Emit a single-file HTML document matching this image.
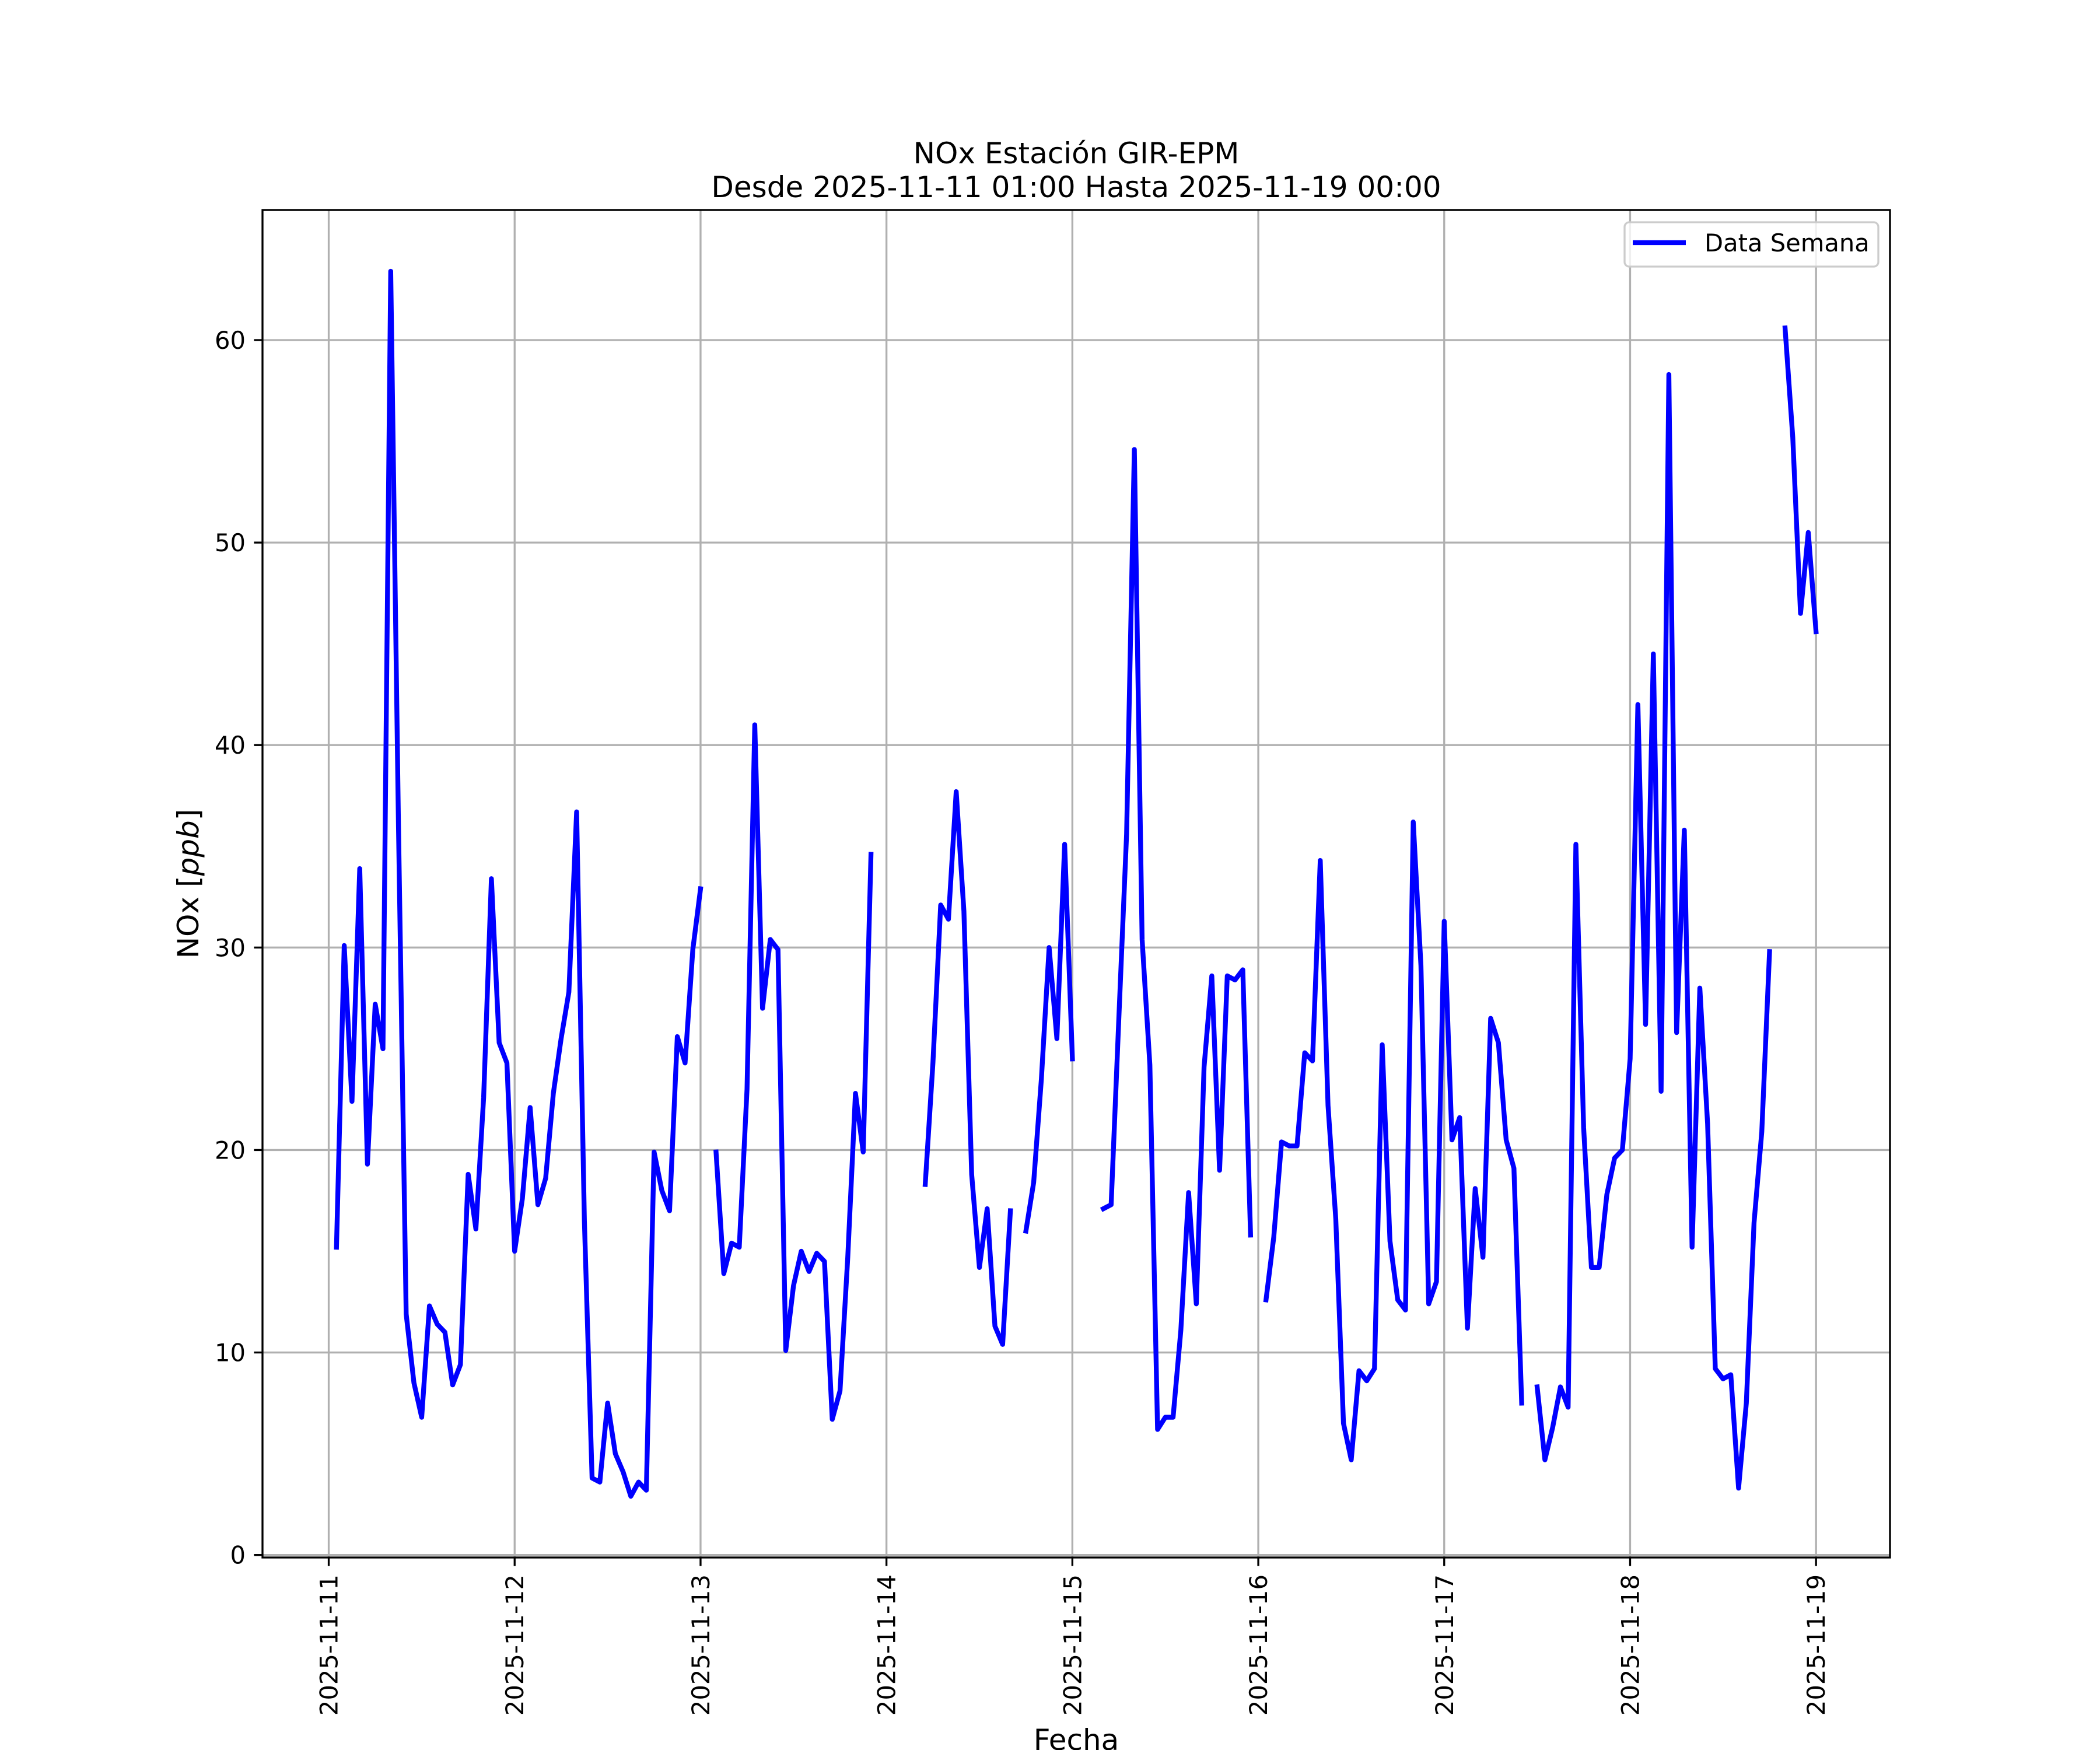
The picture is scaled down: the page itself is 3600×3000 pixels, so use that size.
<!DOCTYPE html>
<html><head><meta charset="utf-8"><style>
html,body{margin:0;padding:0;background:#fff;}
svg{display:block;font-family:"DejaVu Sans","Liberation Sans",sans-serif;}
</style></head><body>
<svg id="chart" width="3600" height="3000" viewBox="0 0 3600 3000" xmlns="http://www.w3.org/2000/svg">
<rect x="0" y="0" width="3600" height="3000" fill="#fff"/>
<text x="1845" y="280" font-size="50" text-anchor="middle">NOx Estación GIR-EPM</text>
<text x="1845" y="338" font-size="50" text-anchor="middle">Desde 2025-11-11 01:00 Hasta 2025-11-19 00:00</text>
<g id="grid"></g>
<defs><clipPath id="clip"><rect x="450" y="360" width="2790" height="2310"/></clipPath></defs>
<g id="series" clip-path="url(#clip)"></g>
<rect x="450" y="360" width="2790" height="2310" fill="none" stroke="#000" stroke-width="3.33"/>
<g id="ticks"></g>
<text x="1845" y="3000" font-size="50" text-anchor="middle">Fecha</text>
<text transform="translate(340,1515) rotate(-90)" font-size="50" text-anchor="middle">NOx [<tspan font-style="italic">ppb</tspan>]</text>
<g>
<rect x="2785" y="381" width="435" height="76" rx="8" fill="#fff" fill-opacity="0.8" stroke="#cccccc" stroke-width="3.33"/>
<line x1="2799" y1="416" x2="2890" y2="416" stroke="#0000ff" stroke-width="8.33"/>
<text x="2922" y="431" font-size="41.67">Data Semana</text>
</g>
</svg>
<script>
const dayLabels = ["2025-11-11","2025-11-12","2025-11-13","2025-11-14","2025-11-15","2025-11-16","2025-11-17","2025-11-18","2025-11-19"];
const yTicks = [0,10,20,30,40,50,60];
const values = [null,
15.2,30.1,22.4,33.9,19.3,27.2,25.0,63.4,
36,11.9,8.5,6.8,12.3,11.4,11.0,8.4,9.4,18.8,16.1,22.6,33.4,25.3,24.3,15.0,
17.6,22.1,17.3,18.6,22.8,25.5,27.8,36.7,16.5,3.8,3.6,7.5,5.0,4.1,2.9,3.6,3.2,19.9,18.0,17.0,25.6,24.3,29.9,32.9,
null,19.9,13.9,15.4,15.2,23.0,41.0,27.0,30.4,29.9,10.1,13.3,15.0,14.0,14.9,14.5,6.7,8.1,14.7,22.8,19.9,34.6,
null,null,null,null,null,null,18.3,24.3,32.1,31.4,37.7,31.8,18.8,14.2,17.1,11.3,10.4,17.0,
null,16.0,18.4,23.5,30.0,25.5,35.1,24.5,
null,null,null,17.1,17.3,26.5,35.6,54.6,30.4,24.2,6.2,6.8,6.8,11.1,17.9,12.4,24.1,28.6,19.0,28.6,28.4,28.9,15.8,
null,12.6,15.7,20.4,20.2,20.2,24.8,24.4,34.3,22.2,16.6,6.5,4.7,9.1,8.6,9.2,25.2,15.5,12.6,12.1,36.2,29.1,12.4,13.5,31.3,20.5,21.6,11.2,18.1,14.7,26.5,25.3,20.5,19.1,7.5,
null,8.3,4.7,6.3,8.3,7.3,35.1,21.1,14.2,14.2,17.8,19.6,20.0,24.5,42.0,26.2,44.5,22.9,58.3,25.8,35.8,15.2,28.0,21.3,9.2,8.7,8.9,3.3,7.5,16.4,20.9,29.8,
null,60.6,55.2,46.5,50.5,45.6];

const NS="http://www.w3.org/2000/svg";
const AX={l:450,r:3240,t:360,b:2670};
let first=-1,last=-1,vmin=Infinity,vmax=-Infinity;
values.forEach((v,i)=>{if(v!==null){if(first<0)first=i;last=i;vmin=Math.min(vmin,v);vmax=Math.max(vmax,v);}});
const xm=(last-first)*0.05, ym=(vmax-vmin)*0.05;
const x0=first-xm,x1=last+xm,y0=vmin-ym,y1=vmax+ym;
function sx(h){return AX.l+(h-x0)/(x1-x0)*(AX.r-AX.l);}
function sy(v){return AX.b-(v-y0)/(y1-y0)*(AX.b-AX.t);}
function mk(tag,attrs,parent){const e=document.createElementNS(NS,tag);for(const k in attrs)e.setAttribute(k,attrs[k]);parent.appendChild(e);return e;}
const grid=document.getElementById('grid'),ticks=document.getElementById('ticks'),series=document.getElementById('series');
dayLabels.forEach((lab,d)=>{
  const x=sx(d*24);
  const g=mk('line',{x1:x,x2:x,y1:AX.t,y2:AX.b,stroke:'#b0b0b0','stroke-width':3.33},grid);
  
  
  const t=mk('line',{x1:x,x2:x,y1:AX.b,y2:AX.b+14.6,stroke:'#000','stroke-width':3.33},ticks);
  
  
  const tx=mk('text',{transform:`translate(${x+15},${AX.b+29}) rotate(-90)`,'font-size':41.67,'text-anchor':'end'},ticks);
  tx.textContent=lab;
  
  
});
yTicks.forEach(v=>{
  const y=sy(v);
  const g=mk('line',{x1:AX.l,x2:AX.r,y1:y,y2:y,stroke:'#b0b0b0','stroke-width':3.33},grid);
  
  
  const t=mk('line',{x1:AX.l-14.6,x2:AX.l,y1:y,y2:y,stroke:'#000','stroke-width':3.33},ticks);
  
  
  const tx=mk('text',{x:AX.l-29,y:y+15,'font-size':41.67,'text-anchor':'end'},ticks);
  tx.textContent=String(v);
  
  
});
let d='',pen=false;
values.forEach((v,i)=>{
  if(v===null){pen=false;return;}
  d+=(pen?'L':'M')+sx(i).toFixed(1)+' '+sy(v).toFixed(1)+' ';pen=true;
});
const p=mk('path',{d:d,fill:'none',stroke:'#0000ff','stroke-width':8.33,'stroke-linejoin':'round','stroke-linecap':'square'},series);


</script>
</body></html>
